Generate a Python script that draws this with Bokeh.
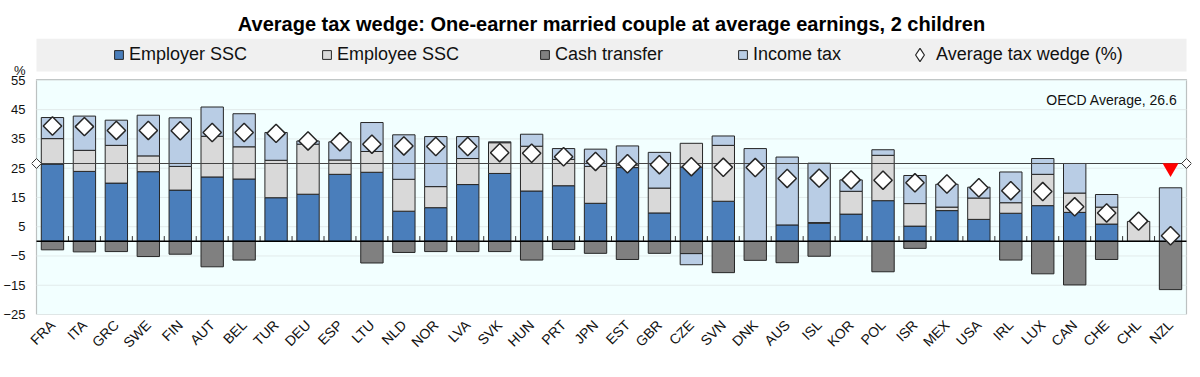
import math
from bokeh.plotting import figure
from bokeh.models import (FactorRange, Range1d, FixedTicker, Label, Legend,
                          LegendItem, ColumnDataSource, BoxAnnotation)
from bokeh.embed import file_html
from bokeh.resources import INLINE

# ---------------- data ----------------
countries = ["FRA", "ITA", "GRC", "SWE", "FIN", "AUT", "BEL", "TUR", "DEU", "ESP",
             "LTU", "NLD", "NOR", "LVA", "SVK", "HUN", "PRT", "JPN", "EST", "GBR",
             "CZE", "SVN", "DNK", "AUS", "ISL", "KOR", "POL", "ISR", "MEX", "USA",
             "IRL", "LUX", "CAN", "CHE", "CHL", "NZL"]
employer_ssc = [26.4, 23.9, 19.9, 23.8, 17.5, 22.0, 21.3, 14.9, 16.1, 22.9,
                23.6, 10.3, 11.5, 19.4, 23.2, 17.2, 19.0, 13.0, 25.2, 9.7,
                25.4, 13.7, 0.0, 5.6, 6.2, 9.3, 13.9, 5.2, 10.5, 7.5,
                9.6, 12.2, 9.9, 5.9, 0.0, 0.0]
employee_ssc = [8.7, 7.2, 12.9, 5.4, 8.1, 13.9, 11.0, 12.8, 17.1, 4.9,
                7.1, 10.9, 7.2, 8.9, 10.5, 15.3, 9.0, 12.6, 0.9, 8.5,
                8.1, 19.1, 0.0, 0.0, 0.2, 7.8, 15.5, 7.7, 1.2, 7.3,
                3.6, 10.7, 6.6, 5.8, 6.8, 0.0]
cash_transfer = [-2.9, -3.6, -3.5, -5.2, -4.4, -8.7, -6.4, 0.0, 0.0, 0.0,
                 -7.4, -3.8, -3.5, -3.5, -3.5, -6.4, -2.8, -4.1, -6.2, -4.1,
                 -4.2, -10.7, -6.5, -7.3, -5.1, 0.0, -10.4, -2.4, 0.0, 0.0,
                 -6.4, -11.1, -14.9, -6.2, 0.0, -16.5]
income_tax = [7.2, 11.7, 8.6, 13.9, 16.6, 10.0, 11.3, 9.5, 1.1, 6.2,
              9.9, 15.2, 17.1, 7.5, 0.3, 4.1, 3.7, 5.9, 6.5, 12.2,
              -3.8, 3.2, 31.7, 23.2, 20.3, 3.9, 1.9, 9.6, 7.8, 3.7,
              10.5, 5.4, 10.1, 4.3, 0.0, 18.3]
tax_wedge = [39.4, 39.2, 37.9, 37.9, 37.8, 37.2, 37.2, 36.9, 34.3, 34.0,
             33.2, 32.6, 32.4, 32.4, 30.3, 30.1, 28.9, 27.3, 26.5, 26.2,
             25.5, 25.3, 25.2, 21.5, 21.6, 21.0, 20.9, 20.0, 19.6, 18.3,
             17.3, 17.0, 11.8, 9.7, 6.9, 1.9]
oecd_average = 26.6
flag_country = ["NZL"]
flag_value = [25.1]
y_ticks = [-25, -15, -5, 5, 15, 25, 35, 45, 55]
y_min, y_max = -25, 55.3

TITLE = "Average tax wedge: One-earner married couple at average earnings, 2 children"
FONT = "Liberation Sans"
C_EMPLOYER = "#4A7EBB"
C_EMPLOYEE = "#D9D9D9"
C_CASH = "#808080"
C_INCOME = "#B9CDE5"
EDGE = "#262626"
TXT = "#111111"

# ---------------- layout (pixels) ----------------
W_FIG, H_FIG = 1192, 369
CHART_W = 1150                     # width of the chart area
SIDE = 5                           # frame overhang on each side of the chart area
B_LEFT, B_TOP, B_BOTTOM = 31, 38, 55
B_RIGHT = W_FIG - B_LEFT - CHART_W - 2 * SIDE
FRAME_H = H_FIG - B_TOP - B_BOTTOM          # 276
PLOT_H = 235                                 # height of the chart area
BAND_H, BAND_GAP = 33, 8
u_per_px = (y_max - y_min) / PLOT_H
frame_top_val = y_min + FRAME_H * u_per_px
band_bottom_val = y_max + BAND_GAP * u_per_px
pct_val = y_max + 9 * u_per_px               # where the "%" unit sits
n = len(countries)
pad_units = SIDE * n / CHART_W               # padding applied on each side

# ---------------- stacking ----------------
def series_source(bottoms, tops):
    xs, b, t = [], [], []
    for c, lo, hi in zip(countries, bottoms, tops):
        if abs(hi - lo) > 1e-9:
            xs.append(c); b.append(lo); t.append(hi)
    return ColumnDataSource(dict(x=xs, bottom=b, top=t))

emp_b = [0.0] * n
emp_t = list(employer_ssc)
ee_t = [a + b for a, b in zip(employer_ssc, employee_ssc)]
cash_t = [0.0] * n
inc_b, inc_t = [], []
for base, neg, it in zip(ee_t, cash_transfer, income_tax):
    if it >= 0:
        inc_b.append(base); inc_t.append(base + it)
    else:
        inc_b.append(neg + it); inc_t.append(neg)

# ---------------- figure ----------------
xr = FactorRange(*countries, range_padding=pad_units, range_padding_units="absolute")
p = figure(x_range=xr, y_range=Range1d(y_min, frame_top_val),
           width=W_FIG, height=H_FIG,
           min_border_left=B_LEFT, min_border_right=B_RIGHT,
           min_border_top=B_TOP, min_border_bottom=B_BOTTOM,
           output_backend="svg", toolbar_location=None)
p.background_fill_color = "white"
p.border_fill_color = "white"
p.outline_line_color = None
p.grid.visible = False

p.title.text = TITLE
p.title.align = "center"
p.title.text_font = FONT
p.title.text_font_style = "bold"
p.title.text_font_size = "20px"
p.title.text_color = "black"
p.title.standoff = 7

# chart area and legend band
p.add_layout(BoxAnnotation(left=0, right=n, bottom=y_min, top=y_max, fill_color="#F2FFFF",
                           fill_alpha=1, line_color="#333333", line_width=1.2, level="image"))
p.add_layout(BoxAnnotation(left=0, right=n, bottom=band_bottom_val, top=frame_top_val,
                           fill_color="#F0F0F0", fill_alpha=1, line_color=None, level="image"))

# faint horizontal gridlines inside the chart area
p.segment(x0=[0] * len(y_ticks), x1=[n] * len(y_ticks), y0=y_ticks, y1=y_ticks,
          line_color="#E2EBEB", line_width=1)

ax_ticks = y_ticks + [pct_val]
p.yaxis.ticker = FixedTicker(ticks=ax_ticks)
p.yaxis.major_label_overrides = {pct_val: "%"}
p.yaxis.axis_line_color = None
p.yaxis.major_tick_line_color = None
p.yaxis.minor_tick_line_color = None
p.yaxis.major_tick_out = 0
p.yaxis.major_label_standoff = 6
p.yaxis.major_label_text_font = FONT
p.yaxis.major_label_text_font_size = "13px"
p.yaxis.major_label_text_color = TXT

p.xaxis.axis_line_color = None
p.xaxis.major_tick_line_color = None
p.xaxis.major_tick_out = 0
p.xaxis.major_label_standoff = 8
p.xaxis.major_label_orientation = math.pi / 4
p.xaxis.major_label_text_font = FONT
p.xaxis.major_label_text_font_size = "14px"
p.xaxis.major_label_text_color = TXT

BW = 0.7
r_emp = p.vbar(x="x", bottom="bottom", top="top", width=BW, source=series_source(emp_b, emp_t),
               fill_color=C_EMPLOYER, line_color=EDGE, line_width=1)
r_ee = p.vbar(x="x", bottom="bottom", top="top", width=BW, source=series_source(emp_t, ee_t),
              fill_color=C_EMPLOYEE, line_color=EDGE, line_width=1)
r_cash = p.vbar(x="x", bottom="bottom", top="top", width=BW, source=series_source(cash_transfer, cash_t),
                fill_color=C_CASH, line_color=EDGE, line_width=1)
r_inc = p.vbar(x="x", bottom="bottom", top="top", width=BW, source=series_source(inc_b, inc_t),
               fill_color=C_INCOME, line_color=EDGE, line_width=1)

# small category separator ticks at the zero line
bounds = list(range(1, n))
p.segment(x0=bounds, x1=bounds, y0=[0] * len(bounds), y1=[1.8] * len(bounds),
          line_color="#333333", line_width=1)

# zero line and OECD average line across the chart area
p.segment(x0=[0], x1=[n], y0=[0], y1=[0], line_color="black", line_width=1.5)
p.segment(x0=[0], x1=[n], y0=[oecd_average], y1=[oecd_average], line_color="#444444", line_width=1.2)

# average markers at both edges of the chart area
p.scatter(x=[0, n], y=[oecd_average, oecd_average], marker="square", angle=math.pi / 4,
          size=7, fill_color="white", line_color="#333333", line_width=1)

# tax wedge diamonds
p.scatter(x=countries, y=tax_wedge, marker="square", angle=math.pi / 4, size=13,
          fill_color="white", line_color=EDGE, line_width=1.5)
# legend proxy (hidden) for the diamonds
r_dia_leg = p.scatter(x=countries, y=tax_wedge, marker="diamond", size=13, visible=False,
                      fill_color="white", line_color=EDGE, line_width=1.2)

# red flag marker
p.scatter(x=flag_country, y=flag_value, marker="inverted_triangle", size=16,
          fill_color="#FF0000", line_color=None)

p.add_layout(Label(x=n, y=y_max, x_offset=-9, y_offset=-12,
                   text="OECD Average, %.1f" % oecd_average, text_align="right",
                   text_baseline="top", text_font=FONT, text_font_size="14px",
                   text_color=TXT))

# ---------------- legend in the band ----------------
band_y0 = FRAME_H - BAND_H
legend_specs = [("Employer SSC", r_emp, 113), ("Employee SSC", r_ee, 321),
                ("Cash transfer", r_cash, 539), ("Income tax", r_inc, 737)]
for lbl, rend, gx in legend_specs:
    p.add_layout(Legend(items=[LegendItem(label=lbl, renderers=[rend])],
                        location=(gx - B_LEFT, band_y0 + 6), glyph_width=11, glyph_height=11,
                        label_standoff=5, padding=0, margin=0, label_height=21,
                        background_fill_alpha=0, border_line_color=None,
                        label_text_font=FONT, label_text_font_size="18px",
                        label_text_color=TXT))
p.add_layout(Legend(items=[LegendItem(label="Average tax wedge (%)", renderers=[r_dia_leg])],
                    location=(919 - 16 - B_LEFT, band_y0), glyph_width=33, glyph_height=33,
                    label_standoff=0, padding=0, margin=0, inactive_fill_alpha=0,
                    background_fill_alpha=0, border_line_color=None,
                    label_text_font=FONT, label_text_font_size="18px", label_text_color=TXT))

open("out.html", "w").write(file_html(p, INLINE))
